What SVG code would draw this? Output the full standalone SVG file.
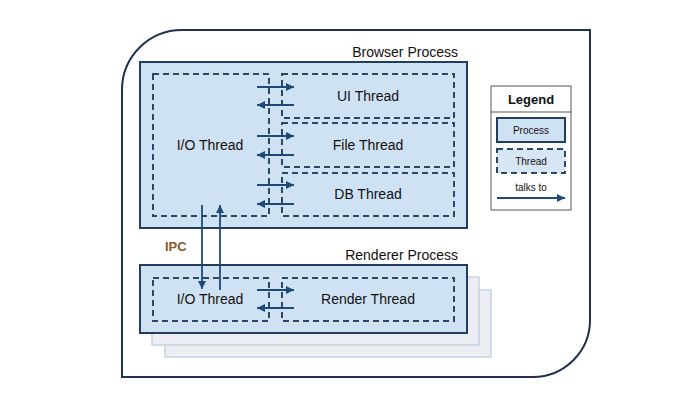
<svg xmlns="http://www.w3.org/2000/svg" width="691" height="416" viewBox="0 0 691 416">
<defs>
<marker id="ah" viewBox="0 0 10 10" refX="10" refY="5" markerWidth="11" markerHeight="8" markerUnits="userSpaceOnUse" orient="auto">
<path d="M0,0 L10,5 L0,10 z" fill="#1f4a78"/>
</marker>
</defs>
<style>
text{font-family:"Liberation Sans",Arial,sans-serif;fill:#111}
.proc{fill:#cfe2f3;stroke:#223e5e;stroke-width:2}
.thr{fill:none;stroke:#2c4766;stroke-width:2;stroke-dasharray:6,4}
.thrl{fill:#d6e6f5;stroke:#2c4766;stroke-width:2;stroke-dasharray:6,4}
.shadow{fill:#eceef3;stroke:#c3d3e6;stroke-width:1.5}
.arr{stroke:#1f4a78;stroke-width:1.8;fill:none;marker-end:url(#ah)}
.lbl{font-size:14px;text-anchor:middle}
</style>
<rect width="691" height="416" fill="#fff"/>
<path id="frame" d="M182,30 L590,30 L590,320 A57,57 0 0 1 533,377 L122,377 L122,90 A60,60 0 0 1 182,30 Z" fill="#fff" stroke="#1f3050" stroke-width="2"/>

<g id="browser-process">
<rect class="proc" x="140" y="62" width="327" height="166"/>
<text x="458" y="57" font-size="14" text-anchor="end">Browser Process</text>
</g>
<g id="browser-io-thread">
<rect class="thr" x="153" y="74" width="116" height="142"/>
<text class="lbl" x="210" y="150">I/O Thread</text>
</g>
<g id="ui-thread">
<rect class="thr" x="282" y="74" width="172" height="44"/>
<text class="lbl" x="368" y="101">UI Thread</text>
</g>
<g id="file-thread">
<rect class="thr" x="282" y="123" width="172" height="44"/>
<text class="lbl" x="368" y="150">File Thread</text>
</g>
<g id="db-thread">
<rect class="thr" x="282" y="173" width="172" height="43"/>
<text class="lbl" x="368" y="199">DB Thread</text>
</g>

<g id="renderer-shadows">
<rect class="shadow" x="165" y="290" width="326" height="67"/>
<rect class="shadow" x="152" y="277" width="327" height="68"/>
</g>
<g id="renderer-process">
<rect class="proc" x="140" y="265" width="327" height="68"/>
<text x="458" y="260" font-size="14" text-anchor="end">Renderer Process</text>
</g>
<g id="renderer-io-thread">
<rect class="thr" x="153" y="278" width="116" height="43"/>
<text class="lbl" x="210" y="304">I/O Thread</text>
</g>
<g id="render-thread">
<rect class="thr" x="282" y="278" width="172" height="43"/>
<text class="lbl" x="368" y="304">Render Thread</text>
</g>

<g id="connectors">
<line class="arr" x1="257" y1="87" x2="294" y2="87"/>
<line class="arr" x1="294" y1="105" x2="257" y2="105"/>
<line class="arr" x1="257" y1="136" x2="294" y2="136"/>
<line class="arr" x1="294" y1="155" x2="257" y2="155"/>
<line class="arr" x1="257" y1="185" x2="294" y2="185"/>
<line class="arr" x1="294" y1="204" x2="257" y2="204"/>
<line class="arr" x1="257" y1="290" x2="294" y2="290"/>
<line class="arr" x1="294" y1="308" x2="257" y2="308"/>
<line class="arr" x1="202" y1="205" x2="202" y2="289"/>
<line class="arr" x1="220" y1="290" x2="220" y2="205"/>
<text x="165" y="251" font-size="13" font-weight="bold" style="fill:#8a5a2a">IPC</text>
</g>

<g id="legend">
<rect x="491" y="86" width="80" height="124" fill="#fff" stroke="#555" stroke-width="1"/>
<line x1="491" y1="112" x2="571" y2="112" stroke="#555" stroke-width="1"/>
<text x="531" y="104" font-size="13" font-weight="bold" text-anchor="middle">Legend</text>
<rect class="proc" x="497" y="118" width="68" height="24"/>
<text x="531" y="134" font-size="10" text-anchor="middle">Process</text>
<rect class="thrl" x="497" y="149" width="68" height="24"/>
<text x="531" y="165" font-size="10" text-anchor="middle">Thread</text>
<text x="531" y="191" font-size="10" text-anchor="middle">talks to</text>
<line class="arr" x1="497" y1="198" x2="565" y2="198"/>
</g>
</svg>
